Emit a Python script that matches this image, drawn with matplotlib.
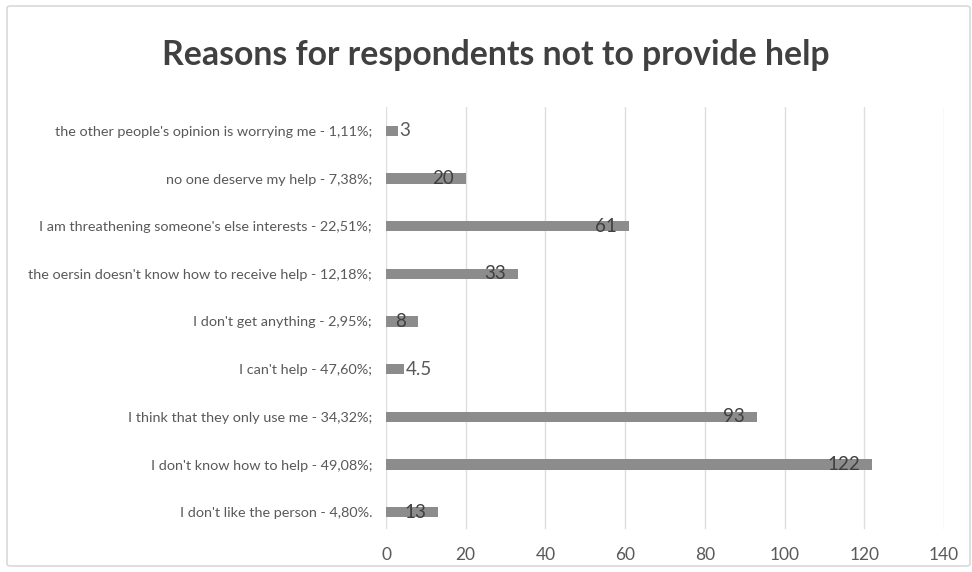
import matplotlib
matplotlib.use("Agg")
import matplotlib.pyplot as plt
from matplotlib.patches import FancyBboxPatch

categories = [
    "I don't like the person - 4,80%.",
    "I don't know how to help - 49,08%;",
    "I think that they only use me - 34,32%;",
    "I can't help - 47,60%;",
    "I don't get anything - 2,95%;",
    "the oersin doesn't know how to receive help - 12,18%;",
    "I am threathening someone's else interests - 22,51%;",
    "no one deserve my help - 7,38%;",
    "the other people's opinion is worrying me - 1,11%;",
]
values = [13, 122, 93, 4.5, 8, 33, 61, 20, 3]
value_labels = ["13", "122", "93", "4.5", "8", "33", "61", "20", "3"]
x_ticks = [0, 20, 40, 60, 80, 100, 120, 140]

plt.rcParams["font.family"] = ["Lato", "DejaVu Sans"]

W, H = 972, 572
fig = plt.figure(figsize=(W / 100, H / 100), dpi=100)
fig.patch.set_facecolor("white")

# light chart-area border
border = FancyBboxPatch((7 / W, 6 / H), (W - 9) / W, (H - 12) / H,
                        boxstyle="round,pad=0,rounding_size=0.004",
                        transform=fig.transFigure, facecolor="none",
                        edgecolor="#d9d9d9", linewidth=1.2)
fig.patches.append(border)

ax_left, ax_right = 386, 944
ax_top, ax_bottom = 107, 536
ax = fig.add_axes([ax_left / W, 1 - ax_bottom / H,
                   (ax_right - ax_left) / W, (ax_bottom - ax_top) / H])

pos = list(range(len(categories)))
bars = ax.barh(pos, values, height=0.21, color="#8c8c8c", zorder=3)

ax.set_xlim(0, 140)
ax.set_ylim(-0.5, len(categories) - 0.5)
ax.set_xticks(x_ticks)
ax.set_xticklabels([str(t) for t in x_ticks], fontsize=12.5, color="#595959")
ax.set_yticks(pos)
ax.set_yticklabels(categories, fontsize=10.4, color="#595959")
ax.tick_params(axis="both", length=0)
ax.tick_params(axis="y", pad=10)
ax.tick_params(axis="x", pad=8)

# vertical gridlines, stopping a little above the tick labels
grid_bottom = 8 / (ax_bottom - ax_top)
for t in x_ticks:
    ax.axvline(t, ymin=grid_bottom, ymax=1, color="#dedede",
               linewidth=1, zorder=0)
for s in ax.spines.values():
    s.set_visible(False)

for p, v, lab in zip(pos, values, value_labels):
    if v < 5:
        ax.text(v + 0.4, p, lab, ha="left", va="center",
                fontsize=13.5, color="#595959", zorder=4)
    else:
        ax.text(v - 3.0, p, lab, ha="right", va="center",
                fontsize=13.5, color="#404040", zorder=4)

fig.text(496 / W, 1 - 55 / H, "Reasons for respondents not to provide help",
         ha="center", va="center", fontsize=24.3, fontweight="bold",
         color="#404040")

fig.savefig("out.png", dpi=100, facecolor="white")
